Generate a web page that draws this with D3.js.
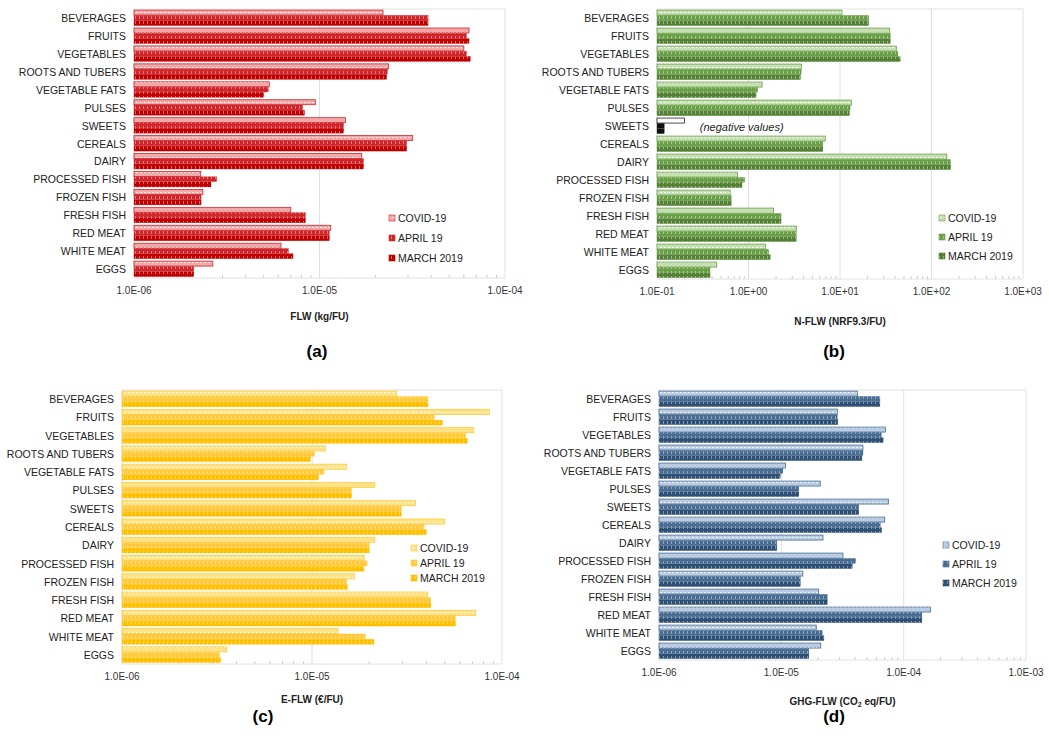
<!DOCTYPE html><html><head><meta charset="utf-8">
<script src="https://cdn.jsdelivr.net/npm/d3@7"></script>
<style>body{margin:0;background:#fff;font-family:Arial,"Liberation Sans",sans-serif}</style></head><body>
<svg id="c" width="1049" height="754"></svg>
<script>
const categories=["BEVERAGES","FRUITS","VEGETABLES","ROOTS AND TUBERS","VEGETABLE FATS","PULSES","SWEETS","CEREALS","DAIRY","PROCESSED FISH","FROZEN FISH","FRESH FISH","RED MEAT","WHITE MEAT","EGGS"];
const seriesNames=["COVID-19","APRIL 19","MARCH 2019"];
// panel a FLW
const flwCovid=[2.2e-5,6.4e-5,6.0e-5,2.36e-5,5.36e-6,9.5e-6,1.38e-5,3.18e-5,1.69e-5,2.29e-6,2.35e-6,7.0e-6,1.15e-5,6.2e-6,2.66e-6];
const flwApril=[3.85e-5,6.2e-5,6.2e-5,2.33e-5,5.3e-6,8.1e-6,1.35e-5,2.95e-5,1.73e-5,2.79e-6,2.3e-6,8.4e-6,1.13e-5,6.8e-6,2.1e-6];
const flwMarch=[3.85e-5,6.4e-5,6.5e-5,2.3e-5,5.0e-6,8.3e-6,1.35e-5,2.95e-5,1.73e-5,2.6e-6,2.3e-6,8.4e-6,1.13e-5,7.2e-6,2.1e-6];
// panel b N-FLW (sweets negative: drawn magnitude only)
const nCovid=[10.5,34.9,41.3,3.78,1.41,13.3,0.2,6.9,147,0.76,0.63,1.88,3.33,1.53,0.45];
const nApril=[20.6,35.5,43,3.78,1.26,12.9,0.12,6.5,161,0.91,0.65,2.27,3.33,1.66,0.38];
const nMarch=[20.6,35.5,45.6,3.7,1.21,12.7,0.12,6.5,162,0.85,0.65,2.27,3.33,1.73,0.38];
// panel c E-FLW
const eCovid=[2.79e-5,8.6e-5,7.1e-5,1.175e-5,1.52e-5,2.14e-5,3.5e-5,5.0e-5,2.14e-5,1.88e-5,1.67e-5,4.05e-5,7.27e-5,1.37e-5,3.56e-6];
const eApril=[4.08e-5,4.4e-5,6.44e-5,1.03e-5,1.156e-5,1.62e-5,2.95e-5,3.89e-5,2.0e-5,1.95e-5,1.52e-5,4.22e-5,5.7e-5,1.91e-5,3.26e-6];
const eMarch=[4.08e-5,4.86e-5,6.58e-5,9.8e-6,1.08e-5,1.62e-5,2.95e-5,4.0e-5,2.0e-5,1.88e-5,1.54e-5,4.22e-5,5.7e-5,2.12e-5,3.31e-6];
// panel d GHG-FLW
const gCovid=[4.2e-5,2.87e-5,7.1e-5,4.65e-5,1.08e-5,2.08e-5,7.5e-5,7.0e-5,2.19e-5,3.19e-5,1.5e-5,2.02e-5,1.66e-4,1.93e-5,2.1e-5];
const gApril=[6.4e-5,2.87e-5,6.57e-5,4.65e-5,1.03e-5,1.39e-5,4.3e-5,6.45e-5,9.2e-6,4.05e-5,1.43e-5,2.38e-5,1.41e-4,2.16e-5,1.68e-5];
const gMarch=[6.4e-5,2.9e-5,6.8e-5,4.56e-5,9.8e-6,1.39e-5,4.3e-5,6.6e-5,9.2e-6,3.8e-5,1.43e-5,2.38e-5,1.41e-4,2.23e-5,1.68e-5];
const ticksA=["1.0E-06","1.0E-05","1.0E-04"], ticksB=["1.0E-01","1.0E+00","1.0E+01","1.0E+02","1.0E+03"], ticksD=["1.0E-06","1.0E-05","1.0E-04","1.0E-03"];

const svg=d3.select("#c");
const defs=svg.append("defs");
function pats(id,cols){
  // covid: light with dashed white line; others: solid with white vertical ticks
  cols.forEach((c,i)=>{
    const p=defs.append("pattern").attr("id",id+i).attr("patternUnits","userSpaceOnUse").attr("width",4).attr("height",5);
    p.append("rect").attr("width",4).attr("height",5).attr("fill",c);
    if(i==0){p.append("rect").attr("x",0).attr("y",2).attr("width",2).attr("height",1).attr("fill","#fff").attr("opacity",0.8);}
    else{p.append("rect").attr("x",3).attr("y",1).attr("width",0.7).attr("height",3).attr("fill","#fff").attr("opacity",0.55);}
  });
}
function panel(o){
  const g=svg.append("g");
  const x=d3.scaleLog().domain(o.domain).range([o.x0,o.x1]);
  const y=d3.scaleBand().domain(categories).range([o.y0,o.y1]).paddingInner(0.12).paddingOuter(0.06);
  pats(o.id,o.cols);
  g.append("rect").attr("x",o.x0).attr("y",o.y0).attr("width",o.x1-o.x0).attr("height",o.y1-o.y0).attr("fill","none").attr("stroke","#e2e2e2");
  const decades=d3.range(Math.log10(o.domain[0]),Math.log10(o.domain[1])+1).map(e=>Math.pow(10,e));
  g.selectAll(".gl").data(decades.slice(1,-1)).join("line").attr("x1",d=>x(d)).attr("x2",d=>x(d)).attr("y1",o.y0).attr("y2",o.y1).attr("stroke","#e0e0e0");
  const minor=[];decades.slice(0,-1).forEach(d=>{for(let k=2;k<10;k++)minor.push(d*k);});
  g.selectAll(".mt").data(minor).join("line").attr("x1",d=>x(d)).attr("x2",d=>x(d)).attr("y1",o.y1).attr("y2",o.y1-3).attr("stroke","#ccc");
  g.selectAll(".tl").data(decades).join("text").attr("x",d=>x(d)).attr("y",o.y1+16).attr("text-anchor","middle").attr("font-size",10).attr("fill","#333").text((d,i)=>o.ticks[i]);
  g.append("text").attr("x",(o.x0+o.x1)/2).attr("y",o.titleY).attr("text-anchor","middle").attr("font-size",10).attr("font-weight","bold").attr("fill","#222").html(o.title);
  g.append("text").attr("x",o.labX).attr("y",o.labY).attr("text-anchor","middle").attr("font-size",17).attr("font-weight","bold").text(o.lab);
  g.selectAll(".cl").data(categories).join("text").attr("x",o.x0-8).attr("y",d=>y(d)+y.bandwidth()/2+4).attr("text-anchor","end").attr("font-size",10.5).attr("fill","#222").text(d=>d);
  const bh=y.bandwidth()/3;
  o.data.forEach((arr,si)=>{
    g.selectAll(".b"+si).data(arr).join("rect")
      .attr("x",o.x0).attr("y",(d,i)=>y(categories[i])+si*bh).attr("height",bh-0.3)
      .attr("width",d=>x(d)-o.x0)
      .attr("fill",(d,i)=>(o.special&&categories[i]==="SWEETS")?(si==0?"#fff":"#111"):`url(#${o.id}${si})`)
      .attr("stroke",(d,i)=>(o.special&&categories[i]==="SWEETS")?"#222":o.cols[si==0?1:si]).attr("stroke-width",si==0?0.8:0.3);
  });
  if(o.special){g.append("text").attr("x",x(0.24)+8).attr("y",y("SWEETS")+y.bandwidth()/2+5).attr("font-size",11).attr("font-style","italic").attr("fill","#222").text("(negative values)");}
  seriesNames.forEach((s,i)=>{
    g.append("rect").attr("x",o.legX).attr("y",o.legY+i*o.legDy-4).attr("width",6).attr("height",6).attr("fill",`url(#${o.id}${i})`).attr("stroke",o.cols[i==0?1:i]).attr("stroke-width",0.6);
    g.append("text").attr("x",o.legX+9).attr("y",o.legY+i*o.legDy+3).attr("font-size",10.5).attr("fill","#222").text(s);
  });
}
panel({id:"a",domain:[1e-6,1e-4],x0:134,x1:505,y0:9,y1:278,ticks:ticksA,title:"FLW (kg/FU)",titleY:320,lab:"(a)",labX:317,labY:357,
  cols:["#f2a7a9","#d0252b","#c00000"],data:[flwCovid,flwApril,flwMarch],legX:389,legY:219,legDy:20});
panel({id:"b",domain:[0.1,1000],x0:657,x1:1023,y0:9,y1:279,ticks:ticksB,title:"N-FLW (NRF9.3/FU)",titleY:325,lab:"(b)",labX:834,labY:357,special:true,
  cols:["#c6dfb4","#6aa048","#548235"],data:[nCovid,nApril,nMarch],legX:939,legY:219,legDy:19});
panel({id:"c",domain:[1e-6,1e-4],x0:122,x1:502,y0:390,y1:664,ticks:ticksA,title:"E-FLW (€/FU)",titleY:703,lab:"(c)",labX:263,labY:722,
  cols:["#ffe389","#ffca3c","#ffc000"],data:[eCovid,eApril,eMarch],legX:411,legY:549,legDy:15});
panel({id:"d",domain:[1e-6,1e-3],x0:659,x1:1026,y0:390,y1:660,ticks:ticksD,title:"GHG-FLW (CO<tspan font-size='7' dy='2'>2</tspan><tspan dy='-2'> eq/FU)</tspan>",titleY:705,lab:"(d)",labX:834,labY:722,
  cols:["#b9cce3","#4a6d94","#2f5075"],data:[gCovid,gApril,gMarch],legX:943,legY:546,legDy:19});
</script></body></html>
